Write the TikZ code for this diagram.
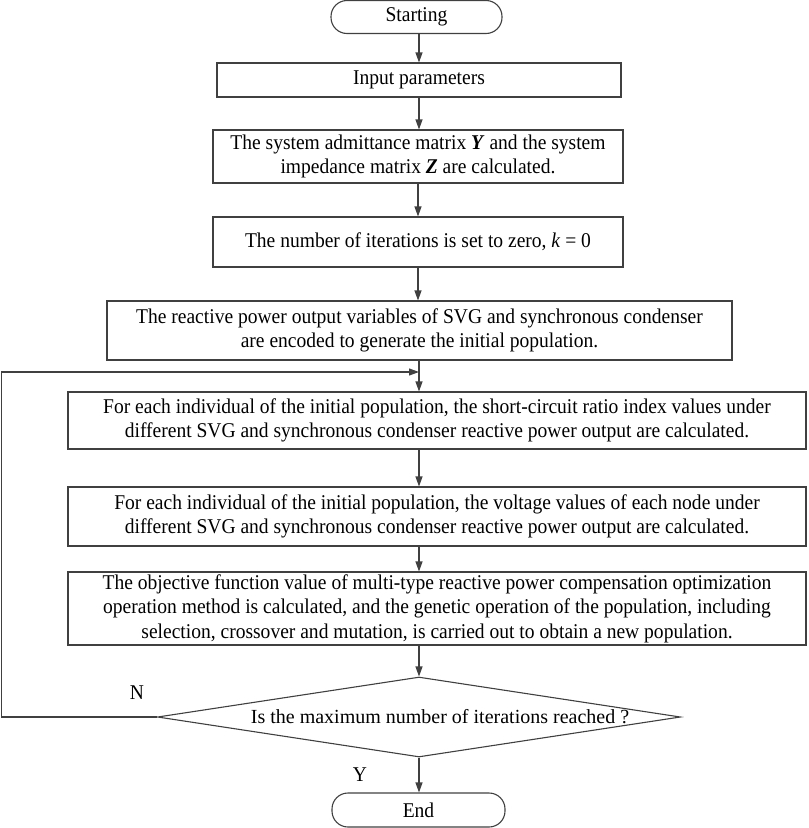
\documentclass[tikz,border=0pt]{standalone}
\usepackage{fontspec}
\setmainfont{Liberation Serif}
\newfontfamily\boxfont[FakeStretch=0.93]{Liberation Serif}
\usetikzlibrary{shapes.geometric,arrows.meta}
\begin{document}
\begin{tikzpicture}[x=1pt,y=-1pt,
  every node/.style={font=\boxfont\fontsize{21}{24.5}\selectfont, text=black},
  ln/.style={draw=black!75, line width=1.1pt},
  arr/.style={ln, -{Triangle[length=10pt,width=7pt]}},
  procbox/.style={ln, rectangle, inner sep=0pt, align=center},
  term/.style={ln, rectangle, rounded corners=16pt, inner sep=0pt, minimum width=171pt, minimum height=33pt},
  decide/.style={ln, diamond, inner sep=0pt, aspect=6.5, minimum width=523pt, minimum height=80pt, font=\rmfamily\fontsize{20}{24}\selectfont}
]
\useasboundingbox (0,0) rectangle (809,828);
\node[term] (start) at (416.5,17) {Starting};
\node[procbox, minimum width=404pt, minimum height=34pt] (in) at (419,80) {Input parameters};
\node[procbox, minimum width=410pt, minimum height=53pt] (b2) at (418,156.5) {The system admittance matrix \textbf{\textit{Y}} and the system\\impedance matrix \textbf{\textit{Z}} are calculated.};
\node[procbox, minimum width=410pt, minimum height=50pt] (b3) at (418,242) {The number of iterations is set to zero, \textit{k} = 0};
\node[procbox, minimum width=625pt, minimum height=59pt] (b4) at (419.5,330.5) {The reactive power output variables of SVG and synchronous condenser\\are encoded to generate the initial population.};
\node[procbox, minimum width=738pt, minimum height=57pt] (b5) at (437,420.5) {For each individual of the initial population, the short-circuit ratio index values under\\different SVG and synchronous condenser reactive power output are calculated.};
\node[procbox, minimum width=738pt, minimum height=59pt] (b6) at (437,516.5) {For each individual of the initial population, the voltage values of each node under\\different SVG and synchronous condenser reactive power output are calculated.};
\node[procbox, minimum width=738pt, minimum height=73pt] (b7) at (437,608.5) {The objective function value of multi-type reactive power compensation optimization\\operation method is calculated, and the genetic operation of the population, including\\selection, crossover and mutation, is carried out to obtain a new population.};
\node[decide] (dia) at (419,717) {\hspace*{42pt}Is the maximum number of iterations reached ?};
\node[term, minimum width=173pt, minimum height=34pt] (end) at (418.5,810) {End};
\node (nlab) at (137,693) {N};
\node (ylab) at (360,775) {Y};
\coordinate (lp) at (419,372);
\coordinate (lc) at (1.5,717);
\draw[arr] (start.south -| in.north) -- (in.north);
\draw[arr] (in.south) -- (in.south |- b2.north);
\draw[arr] (b2.south) -- (b3.north);
\draw[arr] (b3.south) -- (b3.south |- b4.north);
\draw[arr] (lp |- b4.south) -- (lp |- b5.north);
\draw[arr] (lp |- b5.south) -- (lp |- b6.north);
\draw[arr] (lp |- b6.south) -- (lp |- b7.north);
\draw[arr] (dia.north |- b7.south) -- (dia.north);
\draw[arr] (dia.south) -- (dia.south |- end.north);
\draw[arr] (dia.west) -- (lc) |- (lp);
\end{tikzpicture}
\end{document}
